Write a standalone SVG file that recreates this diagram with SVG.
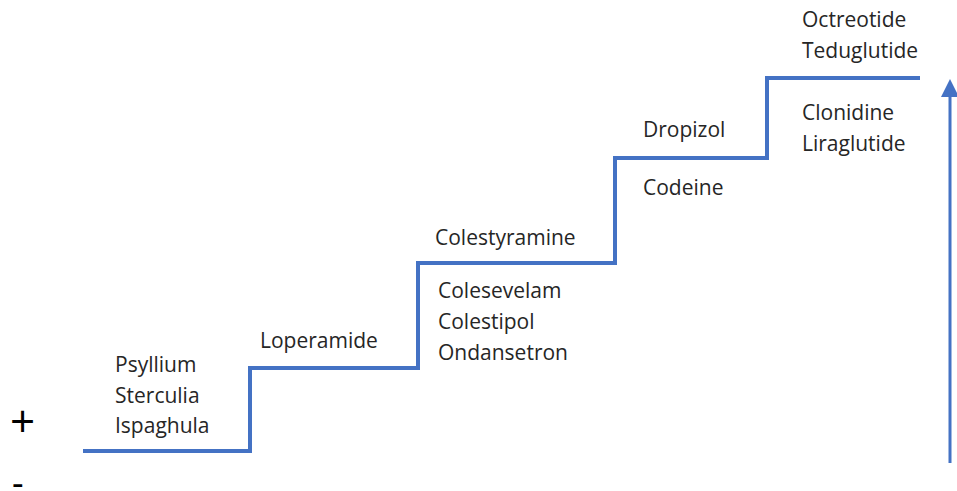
<svg xmlns="http://www.w3.org/2000/svg" width="957" height="491" viewBox="0 0 957 491">
<style>
.t{font-family:"Open Sans","Noto Sans",sans-serif;font-size:21px;fill:#262626}
.s{font-family:"Open Sans","Noto Sans",sans-serif;fill:#000}
.step{fill:none;stroke:#4472C4;stroke-width:4}
</style>
<rect width="957" height="491" fill="#fff"/>
<g id="connectors">
<path class="step" d="M83,451 H250 V368 H418 V263 H615 V158 H767 V78 H920"/>
<line x1="950" y1="463" x2="950" y2="96" stroke="#4472C4" stroke-width="3"/>
<polygon points="941,97 959,97 950,79" fill="#4472C4"/>
</g>
<g id="step1"><text class="t" x="115" y="372">Psyllium</text><text class="t" x="115" y="403">Sterculia</text><text class="t" x="115" y="433">Ispaghula</text></g>
<g id="step2"><text class="t" x="260" y="348">Loperamide</text></g>
<g id="step3a"><text class="t" x="435" y="245">Colestyramine</text></g>
<g id="step3b"><text class="t" x="438" y="298">Colesevelam</text><text class="t" x="438" y="329">Colestipol</text><text class="t" x="438" y="360">Ondansetron</text></g>
<g id="step4a"><text class="t" x="643" y="137">Dropizol</text></g>
<g id="step4b"><text class="t" x="643" y="195">Codeine</text></g>
<g id="step5a"><text class="t" x="802" y="27">Octreotide</text><text class="t" x="802" y="58">Teduglutide</text></g>
<g id="step5b"><text class="t" x="802" y="120">Clonidine</text><text class="t" x="802" y="151">Liraglutide</text></g>
<g id="signs"><text class="s" font-size="44" x="10" y="437">+</text><text class="s" font-size="36" x="12" y="496">-</text></g>
</svg>
